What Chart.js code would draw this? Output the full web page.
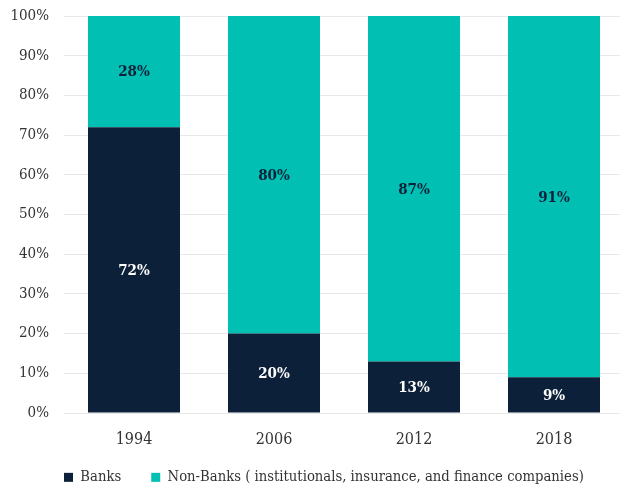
<!DOCTYPE html>
<html><head><meta charset="utf-8">
<script src="https://cdn.jsdelivr.net/npm/chart.js@4"></script>
<style>html,body{margin:0;padding:0;background:#fff;overflow:hidden;}#wrap{width:626px;height:485px;position:relative;}</style>
</head><body><div id="wrap"><canvas id="c" width="626" height="485"></canvas></div>
<script>
const categories = ["1994", "2006", "2012", "2018"];
const banks = [72, 20, 13, 9];
const nonBanks = [28, 80, 87, 91];
const yTicks = [0,10,20,30,40,50,60,70,80,90,100];
const FONT = "'DejaVu Serif Condensed', 'DejaVu Serif', serif";

const labelPlugin = {
  id: 'segLabels',
  beforeLayout(chart) {
    const lg = chart.legend;
    if (lg && !lg._patched) {
      const orig = lg.fit;
      lg.fit = function () { orig.call(this); this.height = 32; };
      lg._patched = true;
    }
  },
  afterLayout(chart) {
    const lg = chart.legend;
    if (lg) { lg.left += 34; lg.right += 34; lg.top -= 13; }
  },
  afterDatasetsDraw(chart) {
    const ctx = chart.ctx;
    ctx.save();
    ctx.font = "bold 15px " + FONT;
    ctx.textAlign = 'center';
    ctx.textBaseline = 'middle';
    chart.data.datasets.forEach((ds, di) => {
      const meta = chart.getDatasetMeta(di);
      meta.data.forEach((bar, i) => {
        const p = bar.getProps(['x','y','base'], true);
        const cy = (p.y + p.base) / 2;
        ctx.fillStyle = di === 0 ? '#ffffff' : '#0d2039';
        ctx.fillText(ds.data[i] + '%', p.x, cy + 1);
      });
    });
    ctx.restore();
  }
};

new Chart(document.getElementById('c'), {
  type: 'bar',
  data: {
    labels: categories,
    datasets: [
      { label: 'Banks', data: banks, backgroundColor: '#0c2039', categoryPercentage: 92/140, barPercentage: 1 },
      { label: 'Non-Banks ( institutionals, insurance, and finance companies)', data: nonBanks, backgroundColor: '#02bfb3', categoryPercentage: 92/140, barPercentage: 1 }
    ]
  },
  options: {
    responsive: false,
    animation: false,
    layout: { padding: { top: 16, right: 2, left: 0, bottom: 0 } },
    plugins: {
      legend: {
        position: 'bottom',
        align: 'start',
        labels: { boxWidth: 9, boxHeight: 9, color: '#333', font: { family: FONT, size: 14.7 }, padding: 30 }
      },
      tooltip: { enabled: false }
    },
    scales: {
      x: {
        stacked: true,
        grid: { display: false },
        border: { display: false },
        afterFit(s) { s.height = 40; },
        ticks: { color: '#333', font: { family: FONT, size: 16 }, padding: 9 }
      },
      y: {
        stacked: true,
        min: 0, max: 100,
        afterFit(s) { s.width = 64; s.paddingTop = 8; s.paddingBottom = 0; },
        afterBuildTicks(axis) { axis.ticks = yTicks.map(v => ({ value: v })); },
        grid: { color: '#e8e8e8', drawTicks: false },
        border: { display: false },
        ticks: { color: '#333', font: { family: FONT, size: 15 }, padding: 15, callback: v => v + '%' }
      }
    }
  },
  plugins: [labelPlugin]
});
</script></body></html>
